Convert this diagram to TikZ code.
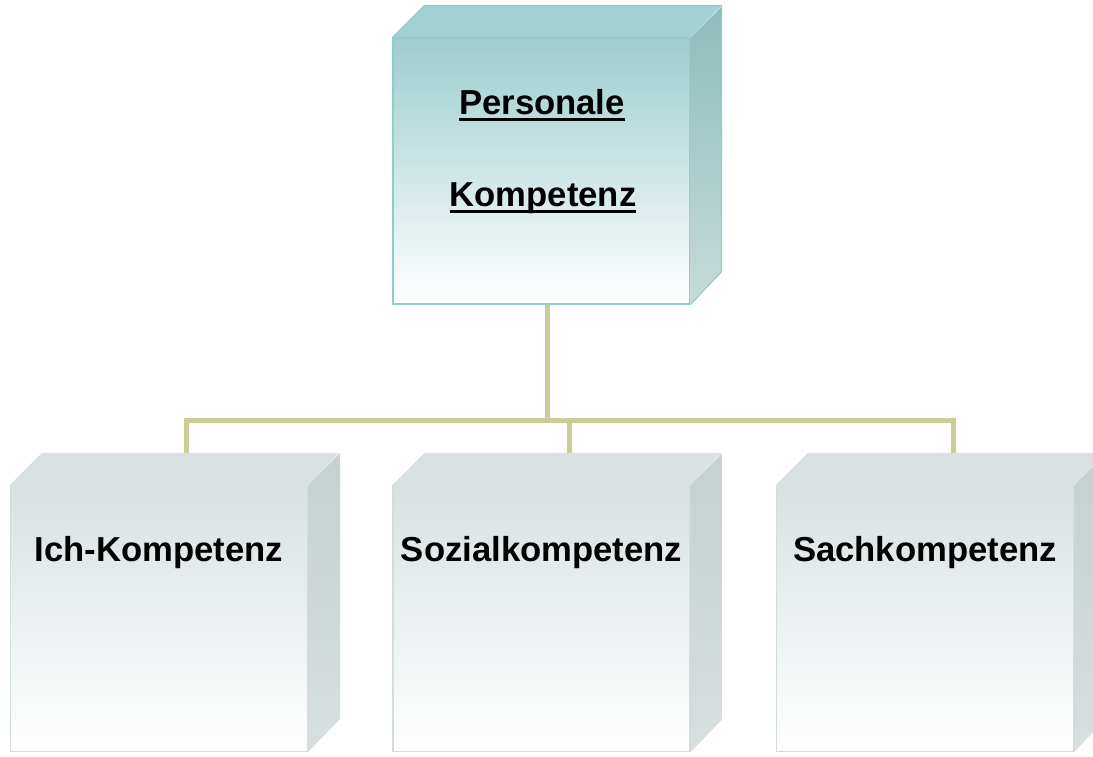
\documentclass[tikz,border=0pt]{standalone}
\usepackage{fontspec}
\setmainfont{Liberation Sans}
\usetikzlibrary{calc}
\definecolor{tealedge}{HTML}{8FCCCC}
\definecolor{tealtop}{HTML}{A2D1D1}
\definecolor{tealfront}{HTML}{9DCDCD}
\definecolor{tealside}{HTML}{8DBCBA}
\definecolor{tealsidelow}{HTML}{C6DCDA}
\definecolor{greyedge}{HTML}{D2DDDD}
\definecolor{greytop}{HTML}{D8E0E1}
\definecolor{greyfront}{HTML}{D8E1E2}
\definecolor{greyside}{HTML}{C6D0D1}
\definecolor{greysidelow}{HTML}{D7DFDF}
\definecolor{linkcol}{HTML}{CCCC99}
\newcommand\ulbox[1]{\setbox0\hbox{#1}\rlap{\rule[-5.5pt]{\wd0}{2.2pt}}\box0}
\tikzset{
  front/.style={minimum width=222.75pt, minimum height=199.5pt, inner sep=0pt, line width=0.8pt},
  pkfront/.style={front, draw=tealedge, top color=tealfront, bottom color=white},
  subfront/.style={front, draw=greyedge, top color=greyfront, bottom color=white},
  lbl/.style={font=\fontsize{26}{31}\selectfont\bfseries, inner sep=0pt, anchor=base},
  conn/.style={linkcol, line width=3.75pt},
}
\begin{document}
\begin{tikzpicture}[x=0.75pt,y=-0.75pt]
\useasboundingbox (0,0) rectangle (1093,757);
%Connectors
\coordinate (root) at (547,304);
\coordinate (hub) at (547,420);
\coordinate (d1) at (186,453);
\coordinate (d2) at (569,453);
\coordinate (d3) at (953,453);
\draw[conn] (root) -- (hub);
\draw[conn] (d1) |- (hub) -| (d3);
\draw[conn] (hub -| d2) -- (d2);
%Top box
\node[pkfront] (pk) at (541.5,171) {};
\fill[tealtop] (pk.north west) -- ++(32,-32) -- ++(297,0) -- (pk.north east) -- cycle;
\shade[top color=tealside, bottom color=tealsidelow] (pk.north east) -- ++(32,-32) -- ++(0,266) -- (pk.south east) -- cycle;
\draw[tealedge, line width=0.8pt] (pk.north west) -- ++(32,-32) -- ++(297,0) -- ++(0,266) -- (pk.south east);
\node[lbl] (pkname1) at (542,114) {\ulbox{Personale}};
\node[lbl] (pkname2) at (543,206) {\ulbox{Kompetenz}};
%Bottom boxes
\foreach \nm/\cx/\txt in {ich/159/Ich-Kompetenz, sozial/541.5/Sozialkompetenz, sach/925/Sachkompetenz}{
  \node[subfront] (\nm) at (\cx,618.5) {};
  \fill[greytop] (\nm.north west) -- ++(32,-32) -- ++(297,0) -- (\nm.north east) -- cycle;
  \shade[top color=greyside, bottom color=greysidelow] (\nm.north east) -- ++(32,-32) -- ++(0,266) -- (\nm.south east) -- cycle;
  \node[lbl] (\nm txt) at (\cx,561) {\txt};
}
\end{tikzpicture}
\end{document}
